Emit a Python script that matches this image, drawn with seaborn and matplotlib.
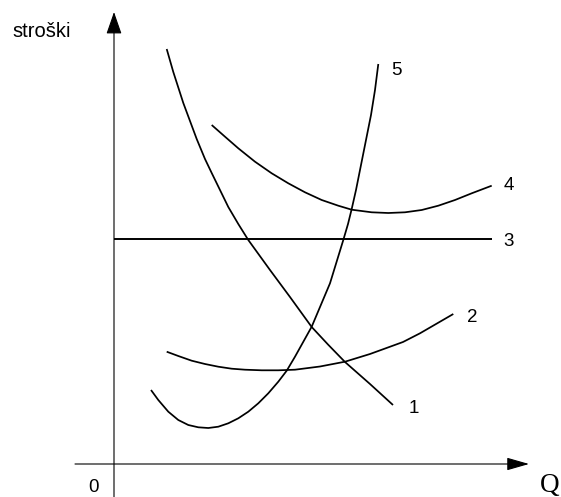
import matplotlib
matplotlib.use("Agg")
import matplotlib.pyplot as plt
import seaborn as sns
import pandas as pd

# ---- data (origin at the axes crossing) ----
c1_x = [52.7, 59.3, 69.3, 82.7, 91, 97.7, 114.3, 124.3, 134.3, 156, 176, 197.7, 214, 231, 256, 279]
c1_y = [415, 392, 361, 325, 305, 291, 257, 240, 224, 194, 167, 137, 119.5, 102, 80, 59]

c2_x = [52.7, 64.3, 77.7, 91, 104.3, 117.7, 131, 147.7, 164.3, 181, 206, 231, 256, 289, 306, 339.3]
c2_y = [112.3, 108, 103.3, 100, 97.3, 95.3, 94.3, 93.7, 93.7, 94.3, 97.5, 102.3, 110, 122, 130.7, 150]

c3_x = [0, 378]
c3_y = [225.5, 225.5]

c4_x = [97.7, 111, 124.3, 141, 157.7, 174.3, 191, 207.7, 224.3, 237.7, 257.7, 274.3,
        291, 307.7, 324.3, 341, 357.7, 377.7]
c4_y = [339, 327.3, 315.7, 302.3, 290.7, 280.7, 271.7, 264, 258.3, 254.3, 251.7, 251,
        251.7, 254, 258.3, 264, 270.7, 278.3]

c5_x = [37, 44.3, 54.3, 64.3, 74.3, 84.3, 94.3, 104.3, 114.3, 124.3, 134.3, 144.3, 154.3,
        164.3, 172.7, 181, 197.7, 216, 229.3, 234, 237.7, 242, 247, 252, 257, 261, 264.3]
c5_y = [74, 64, 52.3, 44, 39, 36.7, 36, 37.3, 40.7, 45.7, 52.3, 60.7, 70.7,
        82.3, 93.3, 107.3, 137.3, 180.7, 224, 240, 255, 274, 299, 324, 349, 374, 400]

curve_labels = ["1", "2", "3", "4", "5"]
y_label = "stroški"
x_label = "Q"
origin_label = "0"

sns.set_theme(style="white")
plt.rcParams["font.family"] = ["Liberation Sans", "DejaVu Sans"]

fig = plt.figure(figsize=(5.61, 4.97), dpi=100)
ax = fig.add_axes([0, 0, 1, 1])
ax.set_xlim(-114, 447)
ax.set_ylim(-33, 464)
ax.axis("off")

curves = [(c1_x, c1_y, 1.25), (c2_x, c2_y, 1.25), (c3_x, c3_y, 1.4),
          (c4_x, c4_y, 1.25), (c5_x, c5_y, 1.25)]
for xs, ys, lw in curves:
    df = pd.DataFrame({"x": xs, "y": ys})
    sns.lineplot(data=df, x="x", y="y", sort=False, estimator=None,
                 color="black", lw=lw, ax=ax, solid_joinstyle="round",
                 solid_capstyle="butt")

# axes with arrows
ax.annotate("", xy=(0, 452), xytext=(0, -33),
            arrowprops=dict(arrowstyle="-|>,head_length=1.15,head_width=0.4",
                            color="black", lw=0.8, shrinkA=0, shrinkB=0))
ax.annotate("", xy=(415, 0), xytext=(-39, 0),
            arrowprops=dict(arrowstyle="-|>,head_length=1.15,head_width=0.33",
                            color="black", lw=0.8, shrinkA=0, shrinkB=0))

# curve labels
label_pos = [(300, 51), (358, 142), (395, 218), (395, 274), (282, 389)]
for lab, (lx, ly) in zip(curve_labels, label_pos):
    ax.text(lx, ly, lab, ha="center", va="baseline", fontsize=13.5, color="black")

ax.text(-72, 427, y_label, ha="center", va="baseline", fontsize=14.5, color="black")
ax.text(-20, -28, origin_label, ha="center", va="baseline", fontsize=13.5, color="black")
ax.text(436, -27.5, x_label, ha="center", va="baseline", fontsize=19.5,
        family=["Liberation Serif", "DejaVu Serif"], color="black")

fig.savefig("out.png", dpi=100)
